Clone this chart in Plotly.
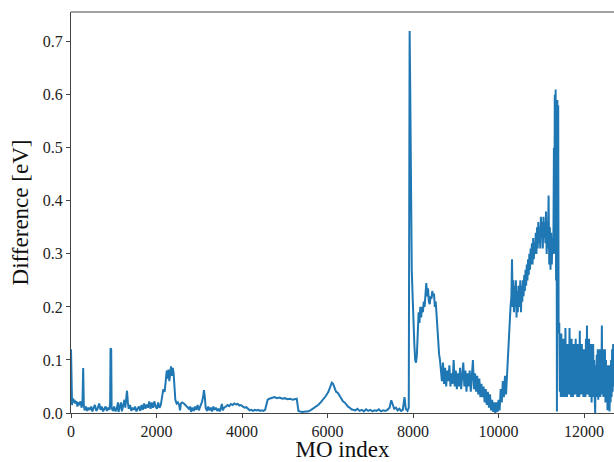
import plotly.graph_objects as go

# (MO index, difference in eV), by region
low_region = [(0,0.12),(10,0.03),(25,0.015),(40,0.028),(60,0.02),(80,0.025),(100,0.018),(130,0.022),(150,0.012),(170,0.02),(200,0.015),(220,0.022),(250,0.01),(270,0.025),(285,0.085),(300,0.015),(320,0.005),(350,0.012),(380,0.004),(410,0.01),(440,0.006),(470,0.012),(500,0.003),(530,0.01),(560,0.015),(590,0.004),(620,0.008),(660,0.018),(690,0.006),(720,0.012),(750,0.003),(780,0.008),(810,0.012),(840,0.004),(870,0.01),(900,0.006),(915,0.02),(925,0.122),(940,0.12),(950,0.01),(980,0.004),(1010,0.012),(1040,0.003),(1070,0.008),(1100,0.02),(1110,0.002),(1140,0.01),(1170,0.02),(1190,0.003),(1220,0.012),(1250,0.025),(1270,0.01),(1290,0.035),(1310,0.042),(1330,0.02),(1350,0.008),(1380,0.015),(1410,0.004),(1440,0.01),(1470,0.006),(1500,0.012),(1530,0.003),(1560,0.008),(1590,0.012),(1620,0.004),(1650,0.015),(1680,0.006),(1710,0.018),(1740,0.008),(1770,0.016),(1800,0.01),(1830,0.022),(1860,0.008),(1890,0.02),(1920,0.01),(1950,0.022),(1980,0.012),(2010,0.008),(2040,0.02),(2070,0.01),(2100,0.015)]

mid_region = [(2130,0.035),(2160,0.045),(2190,0.04),(2220,0.06),(2240,0.08),(2260,0.065),(2280,0.082),(2300,0.06),(2320,0.075),(2340,0.088),(2360,0.07),(2380,0.085),(2400,0.075),(2420,0.05),(2440,0.025),(2470,0.018),(2500,0.02),(2530,0.015),(2550,0.005),(2570,0.018),(2600,0.02),(2640,0.018),(2680,0.015),(2720,0.012),(2760,0.008),(2790,0.012),(2810,0.002),(2840,0.01),(2870,0.004),(2900,0.012),(2930,0.006),(2960,0.015),(2990,0.005),(3020,0.012),(3060,0.02),(3090,0.03),(3110,0.043),(3130,0.03),(3150,0.01),(3180,0.004),(3210,0.012),(3240,0.005),(3270,0.01),(3300,0.003),(3330,0.012),(3360,0.006),(3390,0.01),(3420,0.004),(3450,0.008),(3480,0.003),(3510,0.012),(3530,0.017),(3550,0.005),(3580,0.01),(3620,0.012),(3660,0.015),(3700,0.013),(3740,0.017),(3780,0.015),(3820,0.018),(3860,0.016),(3900,0.017),(3940,0.014),(3980,0.015),(4020,0.012),(4060,0.01),(4100,0.011),(4140,0.008),(4180,0.005),(4220,0.006),(4260,0.004),(4300,0.006),(4340,0.005),(4380,0.006),(4420,0.004),(4460,0.005),(4500,0.004),(4540,0.006),(4570,0.015),(4600,0.025),(4640,0.027),(4700,0.028),(4760,0.03),(4820,0.028),(4880,0.029),(4940,0.027),(5000,0.028),(5060,0.026),(5120,0.027),(5180,0.025),(5240,0.026),(5280,0.027),(5300,0.015),(5320,0.004),(5360,0.003),(5420,0.002),(5480,0.003),(5540,0.003),(5600,0.005),(5660,0.008),(5720,0.012),(5780,0.015),(5840,0.02),(5900,0.025),(5960,0.032),(6020,0.04),(6060,0.05),(6100,0.057),(6130,0.055),(6160,0.048),(6200,0.04),(6240,0.038),(6280,0.032),(6320,0.028),(6360,0.022),(6400,0.02),(6440,0.015),(6480,0.012),(6520,0.01),(6560,0.007),(6600,0.006),(6650,0.005),(6700,0.008),(6750,0.004),(6800,0.006),(6850,0.003),(6900,0.007),(6950,0.004),(7000,0.006),(7050,0.003),(7100,0.005),(7150,0.004),(7200,0.007),(7250,0.003),(7300,0.005),(7350,0.004),(7400,0.006),(7450,0.01),(7490,0.024),(7520,0.015),(7560,0.008),(7600,0.01),(7640,0.005),(7680,0.008),(7720,0.004),(7760,0.006),(7800,0.03),(7830,0.008),(7870,0.004),(7900,0.01)]

spike_region = [(7920,0.72),(7935,0.60),(7945,0.45),(7955,0.30),(7970,0.27),(7990,0.22),(8010,0.16),(8030,0.13),(8050,0.10),(8070,0.095),(8090,0.11),(8110,0.15),(8130,0.19),(8150,0.17),(8170,0.2),(8190,0.18),(8210,0.2),(8230,0.19),(8250,0.21),(8270,0.2),(8290,0.23),(8310,0.245),(8330,0.22),(8350,0.235),(8370,0.21),(8390,0.205),(8410,0.22),(8430,0.215),(8450,0.23),(8470,0.22),(8490,0.225),(8510,0.2),(8530,0.21),(8550,0.18),(8570,0.16),(8590,0.14),(8610,0.11),(8630,0.1),(8650,0.08)]

band_region = [(8675,0.06),(8700,0.095),(8725,0.055),(8750,0.085),(8775,0.05),(8800,0.08),(8825,0.06),(8850,0.09),(8875,0.05),(8900,0.075),(8925,0.055),(8950,0.1),(8975,0.05),(9000,0.08),(9025,0.045),(9050,0.075),(9075,0.05),(9100,0.085),(9125,0.045),(9150,0.07),(9175,0.095),(9200,0.05),(9225,0.08),(9250,0.04),(9275,0.075),(9300,0.05),(9325,0.08),(9350,0.04),(9375,0.085),(9400,0.1),(9425,0.045),(9450,0.075),(9475,0.04),(9500,0.07),(9525,0.035),(9550,0.065),(9575,0.03),(9600,0.055),(9625,0.03),(9650,0.05),(9675,0.02),(9700,0.045),(9725,0.015),(9750,0.04),(9775,0.01),(9800,0.035),(9825,0.005),(9850,0.025),(9875,0.002),(9900,0.02),(9925,0.0),(9950,0.02),(9975,0.002),(10000,0.025),(10025,0.005),(10050,0.045),(10075,0.02),(10100,0.06),(10125,0.03),(10150,0.07),(10175,0.035),(10200,0.075),(10220,0.1),(10240,0.15),(10260,0.19),(10280,0.2)]

rise_region = [(10300,0.22),(10315,0.29),(10330,0.2),(10345,0.25),(10360,0.19),(10375,0.24),(10390,0.2),(10405,0.25),(10420,0.18),(10435,0.23),(10450,0.19),(10465,0.24),(10480,0.2),(10495,0.22),(10510,0.25),(10525,0.19),(10540,0.24),(10555,0.21),(10570,0.25),(10585,0.22),(10600,0.26),(10615,0.23),(10630,0.27),(10645,0.24),(10660,0.28),(10675,0.25),(10690,0.29),(10705,0.26),(10720,0.3),(10735,0.27),(10750,0.31),(10765,0.28),(10780,0.32),(10795,0.28),(10810,0.33),(10825,0.29),(10840,0.32),(10855,0.3),(10870,0.34),(10885,0.3),(10900,0.35),(10915,0.31),(10930,0.36),(10945,0.32),(10960,0.35),(10975,0.31),(10990,0.37),(11005,0.33),(11020,0.36),(11035,0.31),(11050,0.37),(11065,0.33),(11080,0.36),(11095,0.32),(11110,0.38),(11125,0.3),(11140,0.36),(11155,0.31),(11170,0.41),(11185,0.28),(11200,0.35),(11215,0.27),(11230,0.34),(11245,0.28),(11260,0.33),(11275,0.3),(11285,0.35),(11295,0.5),(11305,0.3),(11315,0.6),(11325,0.3),(11335,0.61),(11345,0.25),(11355,0.59),(11365,0.003),(11375,0.59),(11385,0.2),(11395,0.58),(11405,0.15),(11413,0.45)]

tail_region = [(11420,0.17),(11432,0.04),(11444,0.12),(11456,0.03),(11468,0.15),(11480,0.05),(11492,0.11),(11504,0.03),(11516,0.14),(11528,0.04),(11540,0.1),(11552,0.03),(11564,0.16),(11576,0.05),(11588,0.12),(11600,0.03),(11612,0.13),(11624,0.04),(11636,0.1),(11648,0.035),(11660,0.16),(11672,0.05),(11684,0.12),(11696,0.03),(11708,0.14),(11720,0.04),(11732,0.1),(11744,0.03),(11756,0.13),(11768,0.05),(11780,0.11),(11792,0.035),(11804,0.14),(11816,0.04),(11828,0.12),(11840,0.03),(11852,0.13),(11864,0.045),(11876,0.1),(11888,0.03),(11900,0.155),(11912,0.04),(11924,0.12),(11936,0.035),(11948,0.13),(11960,0.05),(11972,0.1),(11984,0.03),(11996,0.12),(12008,0.04),(12020,0.1),(12032,0.03),(12044,0.14),(12056,0.04),(12068,0.165),(12080,0.035),(12092,0.12),(12104,0.04),(12116,0.14),(12128,0.03),(12140,0.11),(12152,0.045),(12164,0.13),(12176,0.02),(12188,0.1),(12200,0.03),(12212,0.13),(12224,0.04),(12236,0.1),(12248,0.03),(12260,0.0),(12272,0.09),(12284,0.03),(12296,0.11),(12308,0.04),(12320,0.12),(12332,0.025),(12344,0.1),(12356,0.04),(12368,0.12),(12380,0.03),(12392,0.1),(12404,0.04),(12416,0.165),(12428,0.035),(12440,0.12),(12452,0.03),(12464,0.11),(12476,0.04),(12488,0.12),(12500,0.02),(12512,0.1),(12524,0.03),(12536,0.09),(12548,0.005),(12560,0.08),(12572,0.02),(12584,0.09),(12596,0.003),(12608,0.07),(12620,0.02),(12632,0.1),(12644,0.03),(12656,0.12),(12668,0.04),(12680,0.13),(12692,0.05),(12704,0.12)]

y_ticks = [0.0, 0.1, 0.2, 0.3, 0.4, 0.5, 0.6, 0.7]
y_tick_labels = ["0.0", "0.1", "0.2", "0.3", "0.4", "0.5", "0.6", "0.7"]
x_ticks = [0, 2000, 4000, 6000, 8000, 10000, 12000]
x_tick_labels = ["0", "2000", "4000", "6000", "8000", "10000", "12000"]

points = low_region + mid_region + spike_region + band_region + rise_region + tail_region
mo_index = [p[0] for p in points]
difference = [p[1] for p in points]

FONT = "Liberation Serif"
AXIS_COLOR = "#444444"
TICK_FONT = dict(family=FONT, size=16, color="#222222")
TITLE_FONT = dict(family=FONT, size=23, color="#111111")

fig = go.Figure()
fig.add_trace(go.Scatter(x=mo_index, y=difference, mode="lines",
                         line=dict(color="#1f77b4", width=2)))

fig.update_layout(
    width=614, height=462,
    margin=dict(l=71, r=0, t=12, b=49, autoexpand=False),
    plot_bgcolor="white", paper_bgcolor="white",
    showlegend=False,
    font=dict(family=FONT, size=16, color="#222222"),
    shapes=[dict(type="line", xref="paper", yref="paper", x0=0, x1=1, y0=1, y1=1,
                 line=dict(color=AXIS_COLOR, width=1.2))],
)
fig.update_xaxes(range=[0, 12700], tickvals=x_ticks, ticktext=x_tick_labels,
                 ticks="outside", ticklen=4, tickfont=TICK_FONT,
                 tickcolor=AXIS_COLOR, showline=True, linecolor=AXIS_COLOR, linewidth=1.2,
                 showgrid=False, zeroline=False, automargin=False,
                 title=dict(text="MO index", font=TITLE_FONT, standoff=2))
fig.update_yaxes(range=[0, 0.756], tickvals=y_ticks, ticktext=y_tick_labels,
                 ticks="outside", tickfont=TICK_FONT,
                 ticklen=4, tickcolor=AXIS_COLOR, showline=True, linecolor=AXIS_COLOR,
                 linewidth=1.2, showgrid=False, zeroline=False, automargin=False,
                 title=dict(text="Difference [eV]", font=TITLE_FONT, standoff=7))

# remove the page's default body margin so the figure fills the window exactly
fig.write_html("out.html",
               config={"displayModeBar": False},
               post_script="document.body.style.margin='0';document.body.style.overflow='hidden';")
